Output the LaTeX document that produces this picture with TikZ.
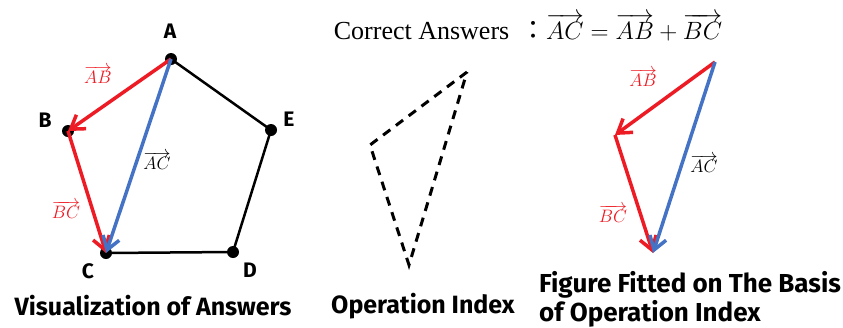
\RequirePackage{fix-cm}
\documentclass[tikz,border=0pt]{standalone}
\usepackage{fontspec}
\setmainfont{Liberation Serif}
\setsansfont{Fira Sans}
\newfontfamily\cjkfont{Noto Sans CJK JP}
\usetikzlibrary{arrows.meta}
\definecolor{vred}{RGB}{237,28,36}
\definecolor{vblue}{RGB}{68,114,196}
\begin{document}
\begin{tikzpicture}[x=1pt,y=-1pt,
  dot/.style={circle,fill=black,inner sep=0pt,minimum size=12pt},
  vtx/.style={inner sep=0pt,font=\sffamily\bfseries\fontsize{21}{24}\selectfont},
  caption/.style={inner sep=0pt,font=\sffamily\bfseries\fontsize{25}{29}\selectfont},
  veclabel/.style={inner sep=0pt,font=\fontsize{18}{20}\selectfont},
  penedge/.style={line width=2.5pt},
  vec/.style={line width=3.5pt,-{Straight Barb[length=13pt,width=17pt]}},
  dashedge/.style={line width=3pt,dash pattern=on 9pt off 7pt}
]
\useasboundingbox (0,0) rectangle (843,327);
% ---- left: pentagon
\node[dot] (A) at (171,59) {};
\node[dot] (B) at (68,131) {};
\node[dot] (E) at (271,130) {};
\node[dot] (C) at (106,253) {};
\node[dot] (D) at (233,252) {};
\draw[penedge] (A.center) -- (E.center) -- (D.center) -- (C.center);
\draw[vec,vred] (A.center) -- (B.center);
\draw[vec,vred] (B.center) -- (C.center);
\draw[vec,vblue] (A.center) -- (C.center);
\node[vtx] (lA) at (170,31) {A};
\node[vtx] (lB) at (45,120) {B};
\node[vtx] (lE) at (289,119) {E};
\node[vtx] (lC) at (88,271) {C};
\node[vtx] (lD) at (250,270) {D};
\node[veclabel,text=vred] (tAB) at (98,75) {$\overrightarrow{AB}$};
\node[veclabel] (tAC) at (157,161) {$\overrightarrow{AC}$};
\node[veclabel,text=vred] (tBC) at (66,210) {$\overrightarrow{BC}$};
\node[caption] (cap1) at (153,306) {Visualization of Answers};
% ---- middle: dashed triangle
\coordinate (P1) at (467,72);
\coordinate (P2) at (370,145);
\coordinate (P3) at (409,265);
\draw[dashedge] (P1) -- (P2) -- (P3) -- cycle;
\node[caption] (cap2) at (423,306) {Operation Index};
% ---- title
\node[inner sep=0pt,anchor=base,font=\fontsize{26}{30}\selectfont] (title) at (528,39)
  {Correct Answers\, {\cjkfont ：}{\fontsize{25}{30}\selectfont$\overrightarrow{AC}=\overrightarrow{AB}+\overrightarrow{BC}$}};
% ---- right: fitted figure
\coordinate (Q1) at (715,62);
\coordinate (Q2) at (615,135);
\coordinate (Q3) at (653,253);
\draw[vec,vred] (Q1) -- (Q2);
\draw[vec,vred] (Q2) -- (Q3);
\draw[vec,vblue] (Q1) -- (Q3);
\node[veclabel,text=vred] (uAB) at (643,78) {$\overrightarrow{AB}$};
\node[veclabel] (uAC) at (704,164) {$\overrightarrow{AC}$};
\node[veclabel,text=vred] (uBC) at (613,214) {$\overrightarrow{BC}$};
\node[caption,align=left,anchor=north west,font=\sffamily\bfseries\fontsize{26}{29}\selectfont] (cap3) at (539,271)
  {Figure Fitted on The Basis\\of Operation Index};
\end{tikzpicture}
\end{document}
